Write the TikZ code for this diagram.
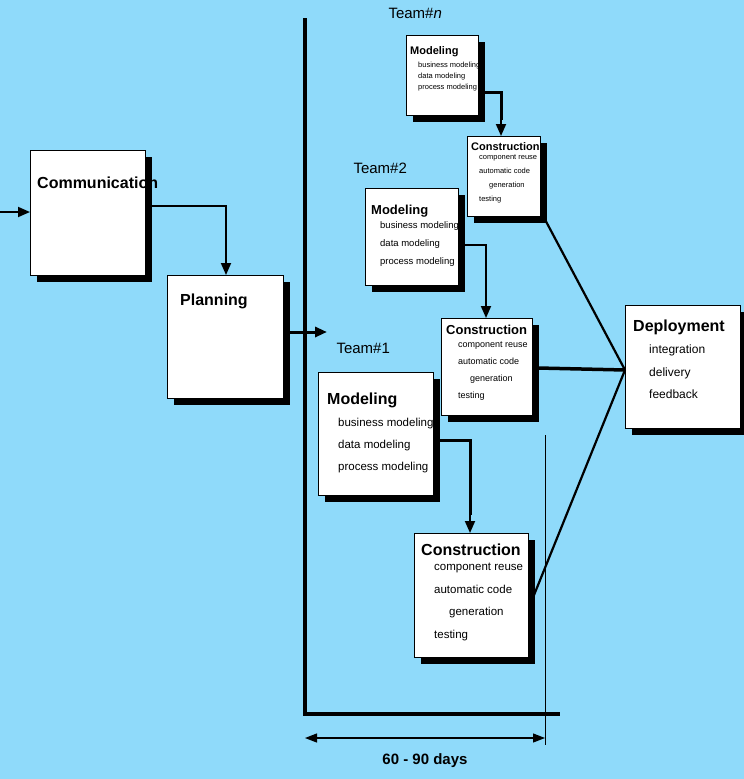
\documentclass[tikz,border=0pt]{standalone}
\usepackage{fontspec}
\setmainfont{Liberation Sans}
\usetikzlibrary{shadows,arrows.meta}
\definecolor{bg}{RGB}{143,218,250}
\begin{document}
\begin{tikzpicture}[x=1pt,y=-1pt,
  box/.style={draw=black,fill=white,line width=1pt,anchor=north west,inner sep=0pt,
    drop shadow={shadow xshift=6pt,shadow yshift=-6pt,fill=black,opacity=1}},
  ttl/.style={anchor=west,font=\bfseries,inner sep=0pt},
  itm/.style={anchor=north west,align=left,inner sep=0pt},
  conn/.style={line width=1.8pt},
  arr/.style={conn,-{Triangle[length=12pt,width=10pt]}},
  ln/.style={line width=2.2pt}]
\fill[bg] (0,0) rectangle (744,779);
\useasboundingbox (0,0) rectangle (744,779);
% frame
\draw[line width=4pt] (305,18) -- (305,714) -- (560,714);
\draw[line width=0.9pt] (545,435) -- (545,745);
\coordinate (dl) at (305,738); \coordinate (dr) at (545,738);
\draw[line width=1.2pt,{Triangle[length=12pt,width=9pt]}-{Triangle[length=12pt,width=9pt]}] (dl) -- (dr);
\node[font=\bfseries\fontsize{15}{15}\selectfont] (days) at (425,761) {60 - 90 days};
% Communication / Planning
\node[box,minimum width=115pt,minimum height=125pt] (comm) at (30,150) {};
\node[ttl,font=\bfseries\fontsize{16}{16}\selectfont] (commt) at (37,183) {Communication};
\node[box,minimum width=116pt,minimum height=123pt] (plan) at (167,275) {};
\node[ttl,font=\bfseries\fontsize{16}{16}\selectfont] (plant) at (180,301) {Planning};
\coordinate (in) at (0,212);
\draw[arr] (in) -- (comm.west|-in);
\draw[conn] (150,206) -| (226,258);
\draw[arr] (226,250) -- (plan.north-|226,0);
\coordinate (pout) at (327,332);
\draw[arr,line width=3pt] (plan.east|-pout) ++(4,0) -- (pout);
% Team n
\node[anchor=west,font=\fontsize{15}{15}\selectfont] (tn) at (385,13) {Team\#\textit{n}};
\node[box,minimum width=72pt,minimum height=80pt] (mn) at (406,35) {};
\node[ttl,font=\bfseries\fontsize{11}{11}\selectfont] (mnt) at (410,52) {Modeling};
\node[itm,font=\fontsize{7.5}{11}\selectfont] (mni) at (418,62) {business modeling\\data modeling\\process modeling};
\node[box,minimum width=73pt,minimum height=80pt] (cn) at (467,136) {};
\node[ttl,font=\bfseries\fontsize{11}{11}\selectfont] (cnt) at (471,147) {Construction};
\node[itm,font=\fontsize{7.5}{14}\selectfont] (cni) at (479,154) {component reuse\\automatic code\\\hspace{10pt}generation\\testing};
\draw[line width=3pt] (mn.east|-0,92) -| (501,120);
\draw[arr] (501,115) -- (cn.north-|501,0);
% Team 2
\node[anchor=west,font=\fontsize{15}{15}\selectfont] (t2) at (350,168) {Team\#2};
\node[box,minimum width=93pt,minimum height=97pt] (m2) at (365,188) {};
\node[ttl,font=\bfseries\fontsize{13}{13}\selectfont] (m2t) at (371,211) {Modeling};
\node[itm,font=\fontsize{9.5}{18}\selectfont] (m2i) at (380,221) {business modeling\\data modeling\\process modeling};
\node[box,minimum width=91pt,minimum height=97pt] (c2) at (441,318) {};
\node[ttl,font=\bfseries\fontsize{13}{13}\selectfont] (c2t) at (446,330) {Construction};
\node[itm,font=\fontsize{9}{17}\selectfont] (c2i) at (458,341) {component reuse\\automatic code\\\hspace{12pt}generation\\testing};
\draw[conn] (m2.east|-0,245) -| (486,300);
\draw[arr] (486,295) -- (c2.north-|486,0);
% Team 1
\node[anchor=west,font=\fontsize{15}{15}\selectfont] (t1) at (333,348) {Team\#1};
\node[box,minimum width=115pt,minimum height=123pt] (m1) at (318,372) {};
\node[ttl,font=\bfseries\fontsize{16}{16}\selectfont] (m1t) at (327,400) {Modeling};
\node[itm,font=\fontsize{11.5}{22}\selectfont] (m1i) at (338,418) {business modeling\\data modeling\\process modeling};
\node[box,minimum width=114pt,minimum height=124pt] (c1) at (414,533) {};
\node[ttl,font=\bfseries\fontsize{16}{16}\selectfont] (c1t) at (421,550) {Construction};
\node[itm,font=\fontsize{11.5}{22.5}\selectfont] (c1i) at (434,563) {component reuse\\automatic code\\\hspace{15pt}generation\\testing};
\draw[line width=3pt] (m1.east|-0,440) -| (470,515);
\draw[arr] (470,510) -- (c1.north-|470,0);
% Deployment
\node[box,minimum width=115pt,minimum height=123pt] (dep) at (625,305) {};
\node[ttl,font=\bfseries\fontsize{16}{16}\selectfont] (dept) at (633,327) {Deployment};
\node[itm,font=\fontsize{12}{22.5}\selectfont] (depi) at (649,345) {integration\\delivery\\feedback};
\coordinate (hub) at (625,370);
\draw[ln] (cn.east|-0,212) -- (hub);
\draw[line width=3.5pt] (c2.east|-0,368) ++(5,0) -- (hub);
\draw[ln] (c1.east|-0,600) ++(3,0) -- (hub);
\end{tikzpicture}
\end{document}
